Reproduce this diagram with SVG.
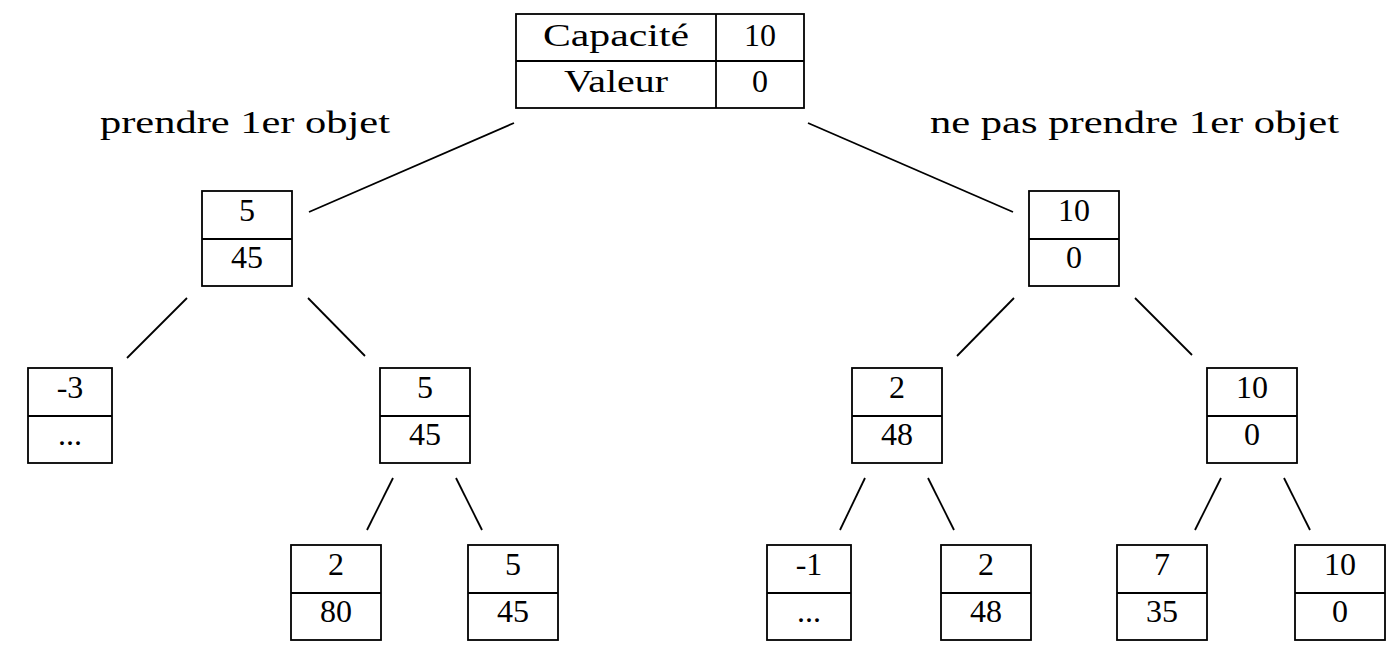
<svg xmlns="http://www.w3.org/2000/svg" width="1400" height="655" viewBox="0 0 1400 655">
<style>
  .box { fill: #ffffff; stroke: #000000; stroke-width: 1.8; }
  .sep { stroke: #000000; stroke-width: 1.8; fill: none; }
  .edge { stroke: #000000; stroke-width: 1.8; fill: none; }
  text { font-family: "Liberation Serif", "Times New Roman", serif; font-size: 32px; fill: #000000; text-anchor: middle; }
</style>
<rect width="1400" height="655" fill="#ffffff"/>
<g id="connectors">
  <line class="edge" x1="514" y1="123" x2="309" y2="212"/>
  <line class="edge" x1="808" y1="123" x2="1013" y2="212"/>
  <line class="edge" x1="187" y1="298" x2="127" y2="358"/>
  <line class="edge" x1="308" y1="298" x2="365" y2="356"/>
  <line class="edge" x1="1014" y1="298" x2="957" y2="356"/>
  <line class="edge" x1="1135" y1="298" x2="1192" y2="355"/>
  <line class="edge" x1="393" y1="478" x2="367" y2="530"/>
  <line class="edge" x1="456" y1="478" x2="482" y2="530"/>
  <line class="edge" x1="865" y1="478" x2="840" y2="530"/>
  <line class="edge" x1="928" y1="478" x2="954" y2="530"/>
  <line class="edge" x1="1221" y1="478" x2="1195" y2="530"/>
  <line class="edge" x1="1284" y1="478" x2="1310" y2="530"/>
</g>
<g id="labels">
  <text x="245" y="133" textLength="290" lengthAdjust="spacingAndGlyphs">prendre 1er objet</text>
  <text x="1134.5" y="133" textLength="409" lengthAdjust="spacingAndGlyphs">ne pas prendre 1er objet</text>
</g>
<g id="root">
  <rect class="box" x="516" y="14" width="288" height="94"/>
  <line class="sep" x1="516" y1="61" x2="804" y2="61"/>
  <line class="sep" x1="716" y1="14" x2="716" y2="108"/>
  <text x="616" y="46" textLength="146" lengthAdjust="spacingAndGlyphs">Capacité</text>
  <text x="616" y="92" textLength="104" lengthAdjust="spacingAndGlyphs">Valeur</text>
  <text x="760" y="46">10</text>
  <text x="760" y="92">0</text>
</g>
<g id="n1">
  <rect class="box" x="202" y="191" width="90" height="95"/>
  <line class="sep" x1="202" y1="239" x2="292" y2="239"/>
  <text x="247" y="221">5</text>
  <text x="247" y="268">45</text>
</g>
<g id="n2">
  <rect class="box" x="1029" y="191" width="90" height="95"/>
  <line class="sep" x1="1029" y1="239" x2="1119" y2="239"/>
  <text x="1074" y="221">10</text>
  <text x="1074" y="268">0</text>
</g>
<g id="n3">
  <rect class="box" x="28" y="368" width="84" height="95"/>
  <line class="sep" x1="28" y1="416" x2="112" y2="416"/>
  <text x="70" y="398">-3</text>
  <text x="70" y="445">...</text>
</g>
<g id="n4">
  <rect class="box" x="380" y="368" width="90" height="95"/>
  <line class="sep" x1="380" y1="416" x2="470" y2="416"/>
  <text x="425" y="398">5</text>
  <text x="425" y="445">45</text>
</g>
<g id="n5">
  <rect class="box" x="852" y="368" width="90" height="95"/>
  <line class="sep" x1="852" y1="416" x2="942" y2="416"/>
  <text x="897" y="398">2</text>
  <text x="897" y="445">48</text>
</g>
<g id="n6">
  <rect class="box" x="1207" y="368" width="90" height="95"/>
  <line class="sep" x1="1207" y1="416" x2="1297" y2="416"/>
  <text x="1252" y="398">10</text>
  <text x="1252" y="445">0</text>
</g>
<g id="n7">
  <rect class="box" x="291" y="545" width="90" height="95"/>
  <line class="sep" x1="291" y1="593" x2="381" y2="593"/>
  <text x="336" y="575">2</text>
  <text x="336" y="622">80</text>
</g>
<g id="n8">
  <rect class="box" x="468" y="545" width="90" height="95"/>
  <line class="sep" x1="468" y1="593" x2="558" y2="593"/>
  <text x="513" y="575">5</text>
  <text x="513" y="622">45</text>
</g>
<g id="n9">
  <rect class="box" x="767" y="545" width="84" height="95"/>
  <line class="sep" x1="767" y1="593" x2="851" y2="593"/>
  <text x="809" y="575">-1</text>
  <text x="809" y="622">...</text>
</g>
<g id="n10">
  <rect class="box" x="941" y="545" width="90" height="95"/>
  <line class="sep" x1="941" y1="593" x2="1031" y2="593"/>
  <text x="986" y="575">2</text>
  <text x="986" y="622">48</text>
</g>
<g id="n11">
  <rect class="box" x="1117" y="545" width="90" height="95"/>
  <line class="sep" x1="1117" y1="593" x2="1207" y2="593"/>
  <text x="1162" y="575">7</text>
  <text x="1162" y="622">35</text>
</g>
<g id="n12">
  <rect class="box" x="1295" y="545" width="90" height="95"/>
  <line class="sep" x1="1295" y1="593" x2="1385" y2="593"/>
  <text x="1340" y="575">10</text>
  <text x="1340" y="622">0</text>
</g>
</svg>
